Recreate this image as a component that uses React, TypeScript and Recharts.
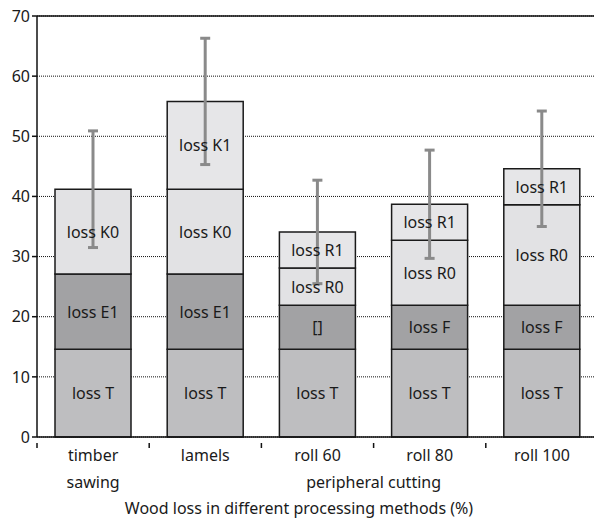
import { BarChart, Bar, XAxis, YAxis, CartesianGrid, ErrorBar, LabelList, ReferenceLine } from "recharts";

const categories = ["timber\nsawing", "lamels", "roll 60", "roll 80", "roll 100"];
const groupLabels = ["", "", "", "peripheral cutting", ""];

// stacked segment heights (%)
const lossT = [14.6, 14.6, 14.6, 14.6, 14.6];
const lossMid = [12.5, 12.5, 7.3, 7.3, 7.3];
const lossUpper = [14.1, 14.1, 6.2, 10.8, 16.7];
const lossTop = [null, 14.6, 6.0, 6.0, 6.0];
// error on the stack total
const errors = [9.7, 10.5, 8.6, 9.0, 9.6];

const labelsT = ["loss T", "loss T", "loss T", "loss T", "loss T"];
const labelsMid = ["loss E1", "loss E1", "[]", "loss F", "loss F"];
const labelsUpper = ["loss K0", "loss K0", "loss R0", "loss R0", "loss R0"];
const labelsTop = ["", "loss K1", "loss R1", "loss R1", "loss R1"];

const yTicks = [0, 10, 20, 30, 40, 50, 60, 70];

const data = categories.map((name, i) => ({
  name,
  t: lossT[i],
  mid: lossMid[i],
  upper: lossUpper[i],
  top: lossTop[i],
  // error bar goes on whichever segment is the top of the stack
  errUpper: lossTop[i] == null ? errors[i] : null,
  errTop: lossTop[i] == null ? null : errors[i],
  labT: labelsT[i],
  labMid: labelsMid[i],
  labUpper: labelsUpper[i],
  labTop: labelsTop[i],
}));

const FONT = "'Noto Sans', sans-serif";
const BAND = (598 - 37) / categories.length;

function SegmentLabel(props: any) {
  const { x, y, width, height, value } = props;
  if (!value || !height) return null;
  return (
    <text
      x={x + width / 2}
      y={y + height / 2}
      textAnchor="middle"
      dominantBaseline="central"
      fontFamily={FONT}
      fontSize={16}
      fill="#1a1a1a"
    >
      {value}
    </text>
  );
}

function CategoryTick(props: any) {
  const { x, y, payload, index } = props;
  const lines = String(payload.value).split("\n");
  const group = groupLabels[index];
  return (
    <g>
      {/* tick marks sit on category boundaries */}
      <line x1={x - BAND / 2} x2={x - BAND / 2} y1={y - 2} y2={y + 3} stroke="#111" strokeWidth={1.5} />
      {lines.map((ln, k) => (
        <text key={k} x={x} y={y + 16 + k * 27} textAnchor="middle" fontFamily={FONT} fontSize={16} fill="#1a1a1a">
          {ln}
        </text>
      ))}
      {group && (
        <text x={x - BAND / 2} y={y + 43} textAnchor="middle" fontFamily={FONT} fontSize={16} fill="#1a1a1a">
          {group}
        </text>
      )}
    </g>
  );
}

export default function App() {
  return (
    <div style={{ position: "absolute", left: 0, top: 0, width: 594, height: 524, overflow: "hidden", background: "#fff" }}>
      <BarChart width={598} height={524} data={data} margin={{ top: 16, right: 0, bottom: 0, left: 0 }}>
        <CartesianGrid vertical={false} stroke="#111" strokeDasharray="1 1" />
        <ReferenceLine y={70} stroke="#111" strokeWidth={1.5} />
        <XAxis
          dataKey="name"
          height={87}
          tickLine={false}
          axisLine={{ stroke: "#111", strokeWidth: 1.5 }}
          tick={<CategoryTick />}
          interval={0}
        />
        <YAxis
          width={37}
          domain={[0, 70]}
          ticks={yTicks}
          tickSize={5}
          axisLine={{ stroke: "#111", strokeWidth: 1.5 }}
          tickLine={{ stroke: "#111", strokeWidth: 1.5 }}
          tick={{ fontFamily: FONT, fontSize: 16, fill: "#1a1a1a" }}
        />
        <Bar dataKey="t" stackId="a" barSize={76} fill="#bebec0" stroke="#1a1a1a" strokeWidth={1.5} isAnimationActive={false}>
          <LabelList dataKey="labT" content={<SegmentLabel />} />
        </Bar>
        <Bar dataKey="mid" stackId="a" barSize={76} fill="#a2a2a4" stroke="#1a1a1a" strokeWidth={1.5} isAnimationActive={false}>
          <LabelList dataKey="labMid" content={<SegmentLabel />} />
        </Bar>
        <Bar dataKey="upper" stackId="a" barSize={76} fill="#e2e2e4" stroke="#1a1a1a" strokeWidth={1.5} isAnimationActive={false}>
          <LabelList dataKey="labUpper" content={<SegmentLabel />} />
          <ErrorBar dataKey="errUpper" width={5} stroke="#8a8a8a" strokeWidth={3} direction="y" />
        </Bar>
        <Bar dataKey="top" stackId="a" barSize={76} fill="#e6e6e8" stroke="#1a1a1a" strokeWidth={1.5} isAnimationActive={false}>
          <LabelList dataKey="labTop" content={<SegmentLabel />} />
          <ErrorBar dataKey="errTop" width={5} stroke="#8a8a8a" strokeWidth={3} direction="y" />
        </Bar>
      </BarChart>
      <div
        style={{
          position: "absolute",
          left: 0,
          width: 598,
          top: 497,
          textAlign: "center",
          fontFamily: FONT,
          fontSize: 16,
          color: "#1a1a1a",
        }}
      >
        Wood loss in different processing methods (%)
      </div>
    </div>
  );
}
